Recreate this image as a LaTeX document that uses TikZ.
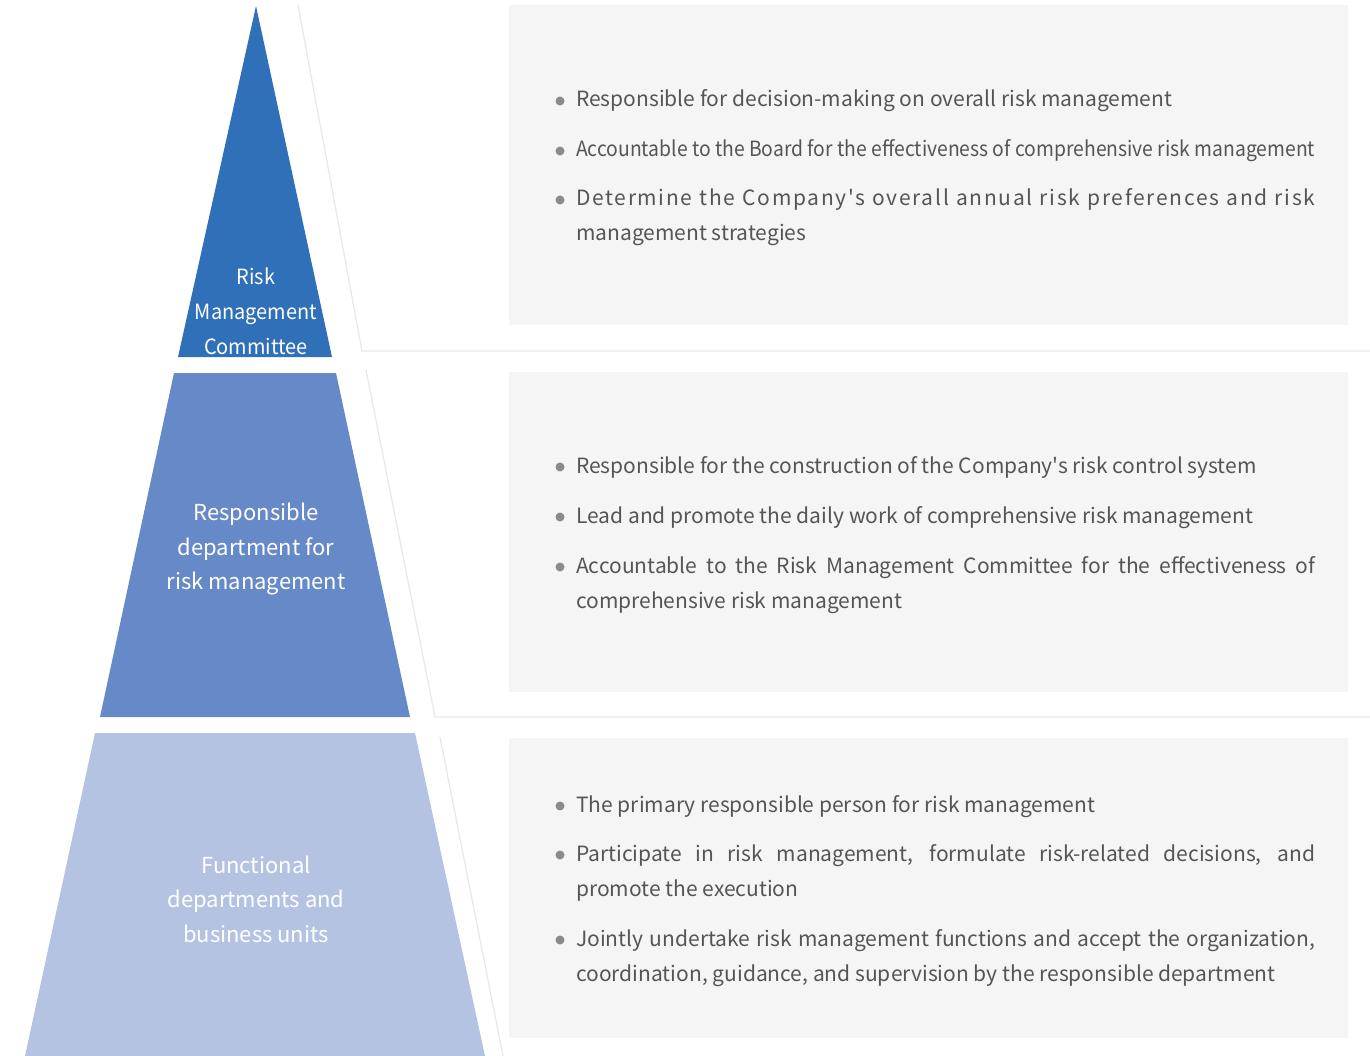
\documentclass[tikz,border=0pt]{standalone}
\usepackage{fontspec}
\usepackage{graphicx}
\setmainfont{Noto Sans CJK SC}[Ligatures=TeXOff]
\definecolor{topblue}{HTML}{3070B8}
\definecolor{midblue}{HTML}{6689C7}
\definecolor{lowblue}{HTML}{B5C3E3}
\definecolor{panelgray}{HTML}{F5F5F5}
\definecolor{rulegray}{HTML}{E8E8E8}
\definecolor{txtgray}{HTML}{555555}
\definecolor{dotgray}{HTML}{8A8A8A}
\newcommand{\spread}[2]{{\addfontfeature{LetterSpace=#1}#2}}
\newcommand{\squeeze}[1]{\resizebox{739pt}{\height}{#1}}
\newcommand{\narrow}[1]{\scalebox{0.95}[1]{#1}}
\hyphenpenalty=10000
\begin{document}
\begin{tikzpicture}[x=1pt,y=-1pt,
  tierlabel/.style={text=white,align=center,inner sep=0pt,font=\fontsize{22}{34.5}\selectfont},
  panel/.style={fill=panelgray,draw=none},
  frame/.style={draw=rulegray,line width=1.3pt},
  duty/.style={anchor=base west,text width=739pt,inner sep=0pt,align=justify,text=txtgray,font=\fontsize{21}{35}\selectfont},
  dot/.style={circle,fill=dotgray,inner sep=0pt,minimum size=9pt}]
\useasboundingbox (0,0) rectangle (1370,1056);
% tiers
\fill[topblue] (256,6) -- (332,357) -- (178,357) -- cycle;
\fill[midblue] (174,373) -- (336,373) -- (410,717) -- (100,717) -- cycle;
\fill[lowblue] (95,733) -- (415,733) -- (485,1056) -- (25,1056) -- cycle;
\node[tierlabel,font=\fontsize{21}{35}\selectfont] (rmc) at (256,311) {\narrow{Risk}\\\narrow{Management}\\\narrow{Committee}};
\node[tierlabel] (rdep) at (256,549) {Responsible\\department for\\risk management};
\node[tierlabel] (fdep) at (256,899) {Functional\\departments and\\business units};
% frames
\draw[frame] (298,5) -- (362,351) -- (1370,351);
\draw[frame] (366,370) -- (435,717) -- (1370,717);
\draw[frame] (440,737) -- (503,1056);
% panels
\fill[panel] (509,5) rectangle (1348,325);
\fill[panel] (509,372) rectangle (1348,692);
\fill[panel] (509,738) rectangle (1348,1038);
% top duties
\node[duty] (t1) at (576,107) {Responsible for decision-making on overall risk management};
\node[duty] (t2) at (576,157) {\squeeze{Accountable to the Board for the effectiveness of comprehensive risk management}};
\node[duty] (t3) at (576,206) {\spread{8}{Determine the Company's overall annual risk preferences and risk}\linebreak management strategies};
% middle duties
\node[duty] (m1) at (576,473) {Responsible for the construction of the Company's risk control system};
\node[duty] (m2) at (576,523) {Lead and promote the daily work of comprehensive risk management};
\node[duty] (m3) at (576,573) {Accountable to the Risk Management Committee for the effectiveness of\linebreak comprehensive risk management};
% bottom duties
\node[duty] (b1) at (576,812) {The primary responsible person for risk management};
\node[duty] (b2) at (576,861) {Participate in risk management, formulate risk-related decisions, and\linebreak promote the execution};
\node[duty] (b3) at (576,946) {Jointly undertake risk management functions and accept the organization,\linebreak coordination, guidance, and supervision by the responsible department};
% bullets
\foreach \d in {t1,t2,t3,m1,m2,m3,b1,b2,b3}
  \node[dot] at ([xshift=-16pt,yshift=6pt]\d.base west) {};
\end{tikzpicture}
\end{document}
